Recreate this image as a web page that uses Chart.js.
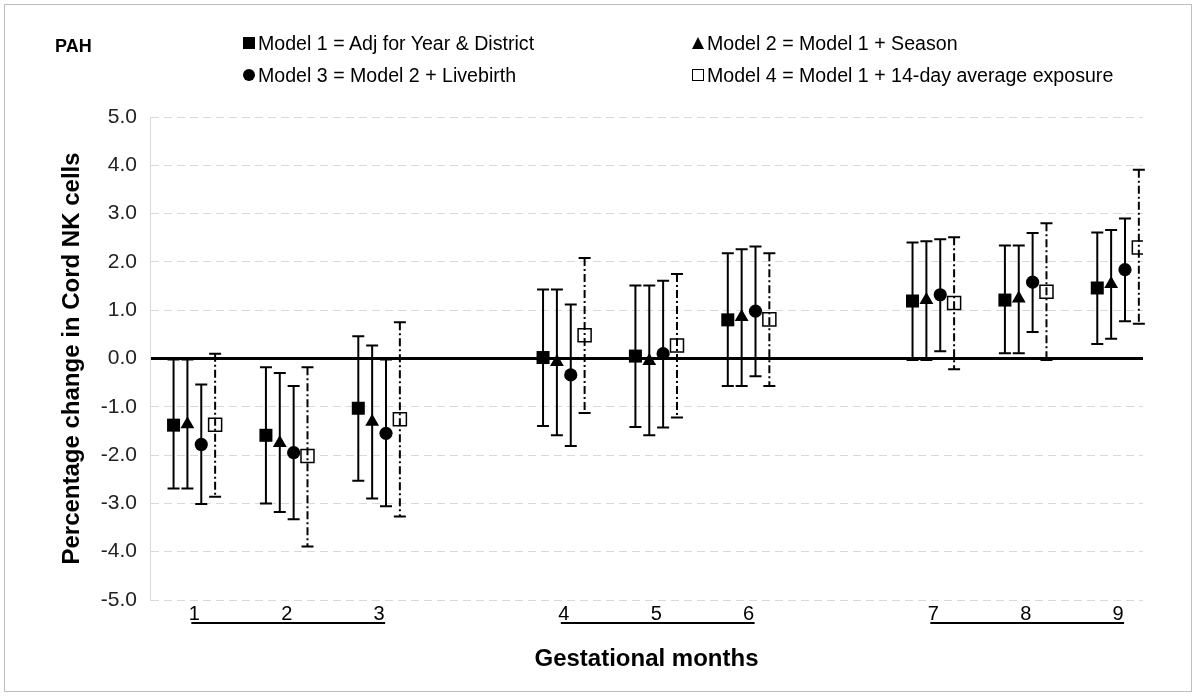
<!DOCTYPE html>
<html>
<head>
<meta charset="utf-8">
<script src="https://cdn.jsdelivr.net/npm/chart.js@4.4.0/dist/chart.umd.min.js"></script>
<style>
    body { margin: 0; background: #fff; font-family: 'Liberation Sans', Arial, sans-serif; }
    #wrap { position: relative; width: 1200px; height: 698px; }
    #frame { position: absolute; left: 4px; top: 4px; width: 1186px; height: 686px; border: 1px solid #bfbfbf; pointer-events: none; }
    canvas { position: absolute; left: 0; top: 0; }
    .tag { position: absolute; left: 55px; top: 36px; font-weight: bold; font-size: 18px; color: #000; }
    .leg { position: absolute; display: flex; align-items: center; font-size: 19.6px; white-space: nowrap; color: #000; height: 22px; }
    .mk { margin-right: 3px; box-sizing: border-box; }
    .sq { width: 12px; height: 12px; background: #000; }
    .tri { width: 0; height: 0; border-left: 6px solid transparent; border-right: 6px solid transparent; border-bottom: 12px solid #000; }
    .circ { width: 12px; height: 12px; border-radius: 50%; background: #000; }
    .open { width: 12px; height: 12px; border: 1.5px solid #000; background: #fff; }
</style>
</head>
<body>
<div id="wrap">
    <canvas id="chart" width="1200" height="698"></canvas>
    <div id="frame"></div>
    <div class="tag">PAH</div>
    <div class="leg" style="left:243px; top:32px"><span class="mk sq"></span>Model 1 = Adj for Year &amp; District</div>
    <div class="leg" style="left:692px; top:32px"><span class="mk tri"></span>Model 2 = Model 1 + Season</div>
    <div class="leg" style="left:243px; top:64px"><span class="mk circ"></span>Model 3 = Model 2 + Livebirth</div>
    <div class="leg" style="left:692px; top:64px"><span class="mk open"></span>Model 4 = Model 1 + 14-day average exposure</div>
</div>
<script>
// blank entries are the gaps between trimesters
const months = ['1', '2', '3', '', '4', '5', '6', '', '7', '8', '9'];

const model1 = [-1.38, -1.59, -1.03, null, 0.02, 0.05, 0.80, null, 1.19, 1.21, 1.46];
const model1Low = [-2.69, -3.00, -2.53, null, -1.40, -1.42, -0.57, null, -0.03, 0.11, 0.30];
const model1High = [-0.02, -0.18, 0.46, null, 1.43, 1.51, 2.18, null, 2.40, 2.34, 2.61];

const model2 = [-1.36, -1.75, -1.31, null, -0.07, -0.05, 0.86, null, 1.21, 1.24, 1.54];
const model2Low = [-2.69, -3.18, -2.90, null, -1.59, -1.59, -0.57, null, -0.03, 0.11, 0.41];
const model2High = [-0.02, -0.30, 0.27, null, 1.43, 1.51, 2.26, null, 2.43, 2.34, 2.66];

const model3 = [-1.78, -1.95, -1.55, null, -0.34, 0.10, 0.98, null, 1.32, 1.58, 1.84];
const model3Low = [-3.01, -3.33, -3.06, null, -1.81, -1.43, -0.37, null, 0.15, 0.55, 0.77];
const model3High = [-0.54, -0.57, -0.02, null, 1.12, 1.61, 2.32, null, 2.47, 2.60, 2.90];

const model4 = [-1.37, -2.02, -1.26, null, 0.48, 0.27, 0.81, null, 1.15, 1.38, 2.30];
const model4Low = [-2.86, -3.89, -3.27, null, -1.13, -1.22, -0.57, null, -0.22, -0.03, 0.72];
const model4High = [0.10, -0.18, 0.75, null, 2.08, 1.75, 2.18, null, 2.51, 2.80, 3.91];

const models = [
    { label: 'Model 1', y: model1, lo: model1Low, hi: model1High, style: 'rect', r: 9.2, fill: '#000', dash: [] },
    { label: 'Model 2', y: model2, lo: model2Low, hi: model2High, style: 'triangle', r: 8, fill: '#000', dash: [] },
    { label: 'Model 3', y: model3, lo: model3Low, hi: model3High, style: 'circle', r: 6.6, fill: '#000', dash: [] },
    { label: 'Model 4', y: model4, lo: model4Low, hi: model4High, style: 'rect', r: 9.2, fill: '#fff', dash: [8, 3, 2, 3] }
];
const shift = [-0.225, -0.075, 0.075, 0.225];

const datasets = models.map((m, k) => ({
    label: m.label,
    data: m.y.map((v, i) => v === null ? null : { x: i + shift[k], y: v }).filter(p => p),
    lo: m.lo.filter(v => v !== null),
    hi: m.hi.filter(v => v !== null),
    dash: m.dash,
    pointStyle: m.style,
    pointRadius: m.r,
    pointHoverRadius: m.r,
    pointBackgroundColor: m.fill,
    pointBorderColor: '#000',
    pointBorderWidth: m.fill === '#fff' ? 1.5 : 0,
    showLine: false
}));

const errorBars = {
    id: 'errorBars',
    afterDatasetsDraw(chart) {
        const ctx = chart.ctx;
        const y = chart.scales.y;
        const x = chart.scales.x;
        ctx.save();
        ctx.strokeStyle = '#000';
        ctx.lineWidth = 2;
        chart.data.datasets.forEach((ds, k) => {
            chart.getDatasetMeta(k).data.forEach((pt, j) => {
                const top = y.getPixelForValue(ds.hi[j]);
                const bot = y.getPixelForValue(ds.lo[j]);
                ctx.setLineDash(ds.dash);
                ctx.beginPath();
                ctx.moveTo(pt.x, top);
                ctx.lineTo(pt.x, bot);
                ctx.stroke();
                ctx.setLineDash([]);
                ctx.beginPath();
                ctx.moveTo(pt.x - 6, top);
                ctx.lineTo(pt.x + 6, top);
                ctx.moveTo(pt.x - 6, bot);
                ctx.lineTo(pt.x + 6, bot);
                ctx.stroke();
            });
        });

        // underline each trimester's month labels
        ctx.lineWidth = 2;
        let start = null;
        months.forEach((m, i) => {
            if (m !== '' && start === null) start = i;
            const last = i === months.length - 1 || months[i + 1] === '';
            if (m !== '' && last) {
                const ly = x.top + 23;
                ctx.beginPath();
                ctx.moveTo(x.getPixelForValue(start) - 3, ly);
                ctx.lineTo(x.getPixelForValue(i) + 6, ly);
                ctx.stroke();
                start = null;
            }
        });
        ctx.restore();
    }
};

const gridDash = c => (c.type === 'tick' && c.tick && c.tick.value !== 0) ? [8, 5] : [];

new Chart(document.getElementById('chart'), {
    type: 'scatter',
    data: { datasets },
    plugins: [errorBars],
    options: {
        responsive: false,
        animation: false,
        devicePixelRatio: 1,
        layout: { padding: { left: 0, top: 117, right: 57, bottom: 0 } },
        plugins: { legend: { display: false }, tooltip: { enabled: false } },
        scales: {
            x: {
                type: 'linear',
                min: -0.48,
                max: 10.27,
                afterFit: s => { s.height = 98; },
                afterBuildTicks: s => {
                    s.ticks = months.map((m, i) => ({ value: i })).filter(t => months[t.value] !== '');
                },
                grid: { display: false, drawTicks: false },
                border: { display: false },
                ticks: {
                    autoSkip: false,
                    maxRotation: 0,
                    padding: 2,
                    color: '#000',
                    font: { family: 'Liberation Sans', size: 20 },
                    callback: v => months[v]
                },
                title: {
                    display: true,
                    text: 'Gestational months',
                    color: '#000',
                    font: { family: 'Liberation Sans', size: 24, weight: 'bold' },
                    padding: { top: 0, bottom: 24 }
                }
            },
            y: {
                min: -5,
                max: 5,
                afterFit: s => { s.width = 150; },
                ticks: {
                    stepSize: 1,
                    padding: 13,
                    color: '#222',
                    font: { family: 'Liberation Sans', size: 21 },
                    callback: v => v.toFixed(1)
                },
                grid: {
                    drawTicks: false,
                    color: c => c.tick && c.tick.value === 0 ? '#000' : '#d9d9d9',
                    lineWidth: c => c.tick && c.tick.value === 0 ? 3 : 1,
                    borderDash: gridDash
                },
                border: { display: true, color: '#d9d9d9', width: 1, dash: gridDash },
                title: {
                    display: true,
                    text: 'Percentage change in Cord NK cells',
                    color: '#000',
                    font: { family: 'Liberation Sans', size: 24, weight: 'bold' },
                    padding: { top: 58, bottom: 0 }
                }
            }
        }
    }
});
</script>
</body>
</html>
